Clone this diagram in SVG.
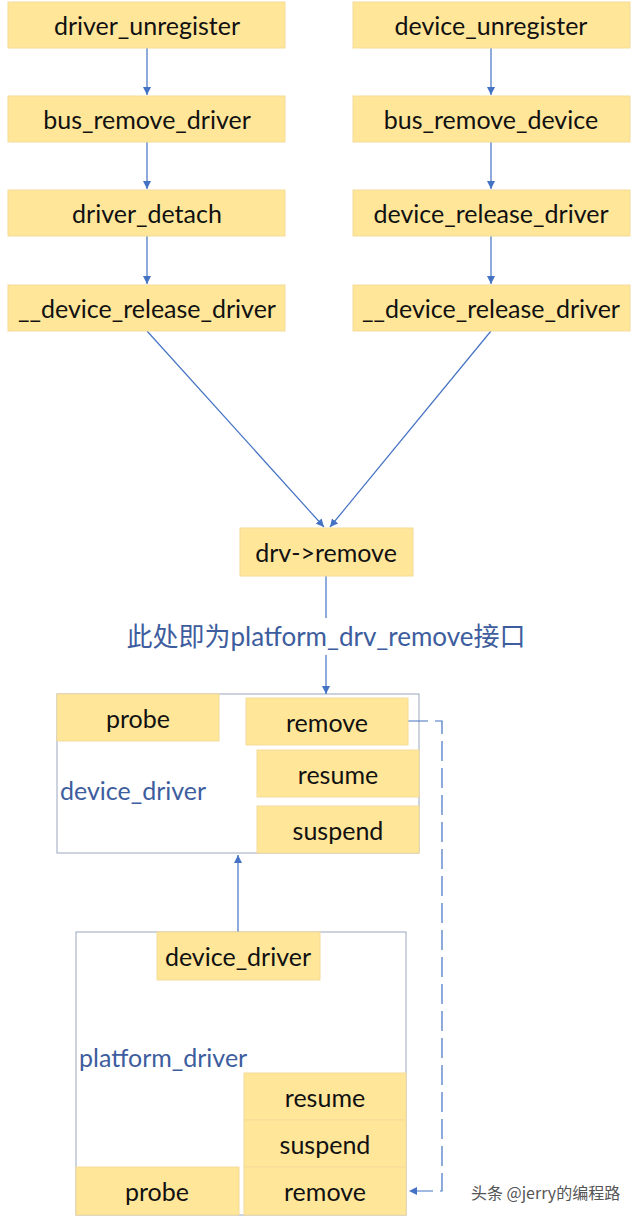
<svg xmlns="http://www.w3.org/2000/svg" width="640" height="1223" viewBox="0 0 640 1223">
<style>
.box{fill:#FFE699;stroke:#F4DC9A;stroke-width:1}
.t{font-family:Lato,"Noto Sans CJK SC",sans-serif;font-size:25px;fill:#111;text-anchor:middle;dominant-baseline:central}
.lbl{font-family:Lato,"Noto Sans CJK SC",sans-serif;font-size:25px;fill:#3D5D9E;dominant-baseline:central}
.frame{fill:#fff;stroke:#9AA6BE;stroke-width:1}
.c{stroke:#4472C4;stroke-width:1.2;fill:none}
.dash{stroke:#4472C4;stroke-width:1.2;fill:none;stroke-dasharray:20 7}
.wm{font-family:"Noto Sans CJK SC",sans-serif;font-size:16px;fill:#555;dominant-baseline:central}
</style>
<defs>
<marker id="ah" viewBox="0 0 10 10" refX="10" refY="5" markerWidth="8" markerHeight="8" markerUnits="userSpaceOnUse" orient="auto">
<path d="M0,0 L10,5 L0,10 z" fill="#4472C4"/>
</marker>
</defs>
<rect width="640" height="1223" fill="#fff"/>

<g id="frame-device-driver"><rect class="frame" x="57" y="694" width="362" height="159"/><text class="lbl" x="60" y="790">device_driver</text></g>
<g id="frame-platform-driver"><rect class="frame" x="76" y="932" width="330" height="283"/><text class="lbl" x="79" y="1057">platform_driver</text></g>

<g id="connectors">
<line class="c" x1="147" y1="48" x2="147" y2="95" marker-end="url(#ah)"/>
<line class="c" x1="147" y1="142" x2="147" y2="189" marker-end="url(#ah)"/>
<line class="c" x1="147" y1="236" x2="147" y2="284" marker-end="url(#ah)"/>
<line class="c" x1="491" y1="48" x2="491" y2="95" marker-end="url(#ah)"/>
<line class="c" x1="491" y1="142" x2="491" y2="189" marker-end="url(#ah)"/>
<line class="c" x1="491" y1="236" x2="491" y2="284" marker-end="url(#ah)"/>
<line class="c" x1="147" y1="331" x2="324" y2="527" marker-end="url(#ah)"/>
<line class="c" x1="491" y1="331" x2="330" y2="527" marker-end="url(#ah)"/>
<line class="c" x1="326" y1="576" x2="326" y2="618"/>
<line class="c" x1="326" y1="655" x2="326" y2="694" marker-end="url(#ah)"/>
<line class="c" x1="238" y1="932" x2="238" y2="855" marker-end="url(#ah)"/>
<path class="dash" d="M408,721 H442 V1191 H409" marker-end="url(#ah)"/>
</g>

<g id="driver_unregister"><rect class="box" x="8" y="2" width="277" height="46"/><text class="t" x="147" y="25">driver_unregister</text></g>
<g id="bus_remove_driver"><rect class="box" x="8" y="96" width="277" height="46"/><text class="t" x="147" y="119">bus_remove_driver</text></g>
<g id="driver_detach"><rect class="box" x="8" y="190" width="277" height="46"/><text class="t" x="147" y="213">driver_detach</text></g>
<g id="dev_rel_drv_l"><rect class="box" x="8" y="285" width="277" height="46"/><text class="t" x="147" y="308">__device_release_driver</text></g>

<g id="device_unregister"><rect class="box" x="353" y="2" width="277" height="46"/><text class="t" x="491" y="25">device_unregister</text></g>
<g id="bus_remove_device"><rect class="box" x="353" y="96" width="277" height="46"/><text class="t" x="491" y="119">bus_remove_device</text></g>
<g id="device_release_driver"><rect class="box" x="353" y="190" width="277" height="46"/><text class="t" x="491" y="213">device_release_driver</text></g>
<g id="dev_rel_drv_r"><rect class="box" x="353" y="285" width="277" height="46"/><text class="t" x="491" y="308">__device_release_driver</text></g>

<g id="drv_remove"><rect class="box" x="240" y="528" width="173" height="48"/><text class="t" x="326" y="552">drv-&gt;remove</text></g>
<g id="note"><text class="lbl" x="326" y="636" text-anchor="middle" style="font-size:26px">此处即为platform_drv_remove接口</text></g>

<g id="dd_probe"><rect class="box" x="57" y="694" width="162" height="47"/><text class="t" x="138" y="718">probe</text></g>
<g id="dd_remove"><rect class="box" x="246" y="698" width="162" height="47"/><text class="t" x="327" y="722">remove</text></g>
<g id="dd_resume"><rect class="box" x="257" y="750" width="162" height="47"/><text class="t" x="338" y="774">resume</text></g>
<g id="dd_suspend"><rect class="box" x="257" y="806" width="162" height="47"/><text class="t" x="338" y="830">suspend</text></g>

<g id="pd_device_driver"><rect class="box" x="157" y="932" width="163" height="48"/><text class="t" x="238" y="956">device_driver</text></g>
<g id="pd_resume"><rect class="box" x="244" y="1073" width="162" height="47"/><text class="t" x="325" y="1097">resume</text></g>
<g id="pd_suspend"><rect class="box" x="244" y="1120" width="162" height="47"/><text class="t" x="325" y="1144">suspend</text></g>
<g id="pd_remove"><rect class="box" x="244" y="1167" width="162" height="48"/><text class="t" x="325" y="1191">remove</text></g>
<g id="pd_probe"><rect class="box" x="76" y="1167" width="163" height="48"/><text class="t" x="157" y="1191">probe</text></g>

<text class="wm" x="471" y="1192">头条 @jerry的编程路</text>
</svg>
